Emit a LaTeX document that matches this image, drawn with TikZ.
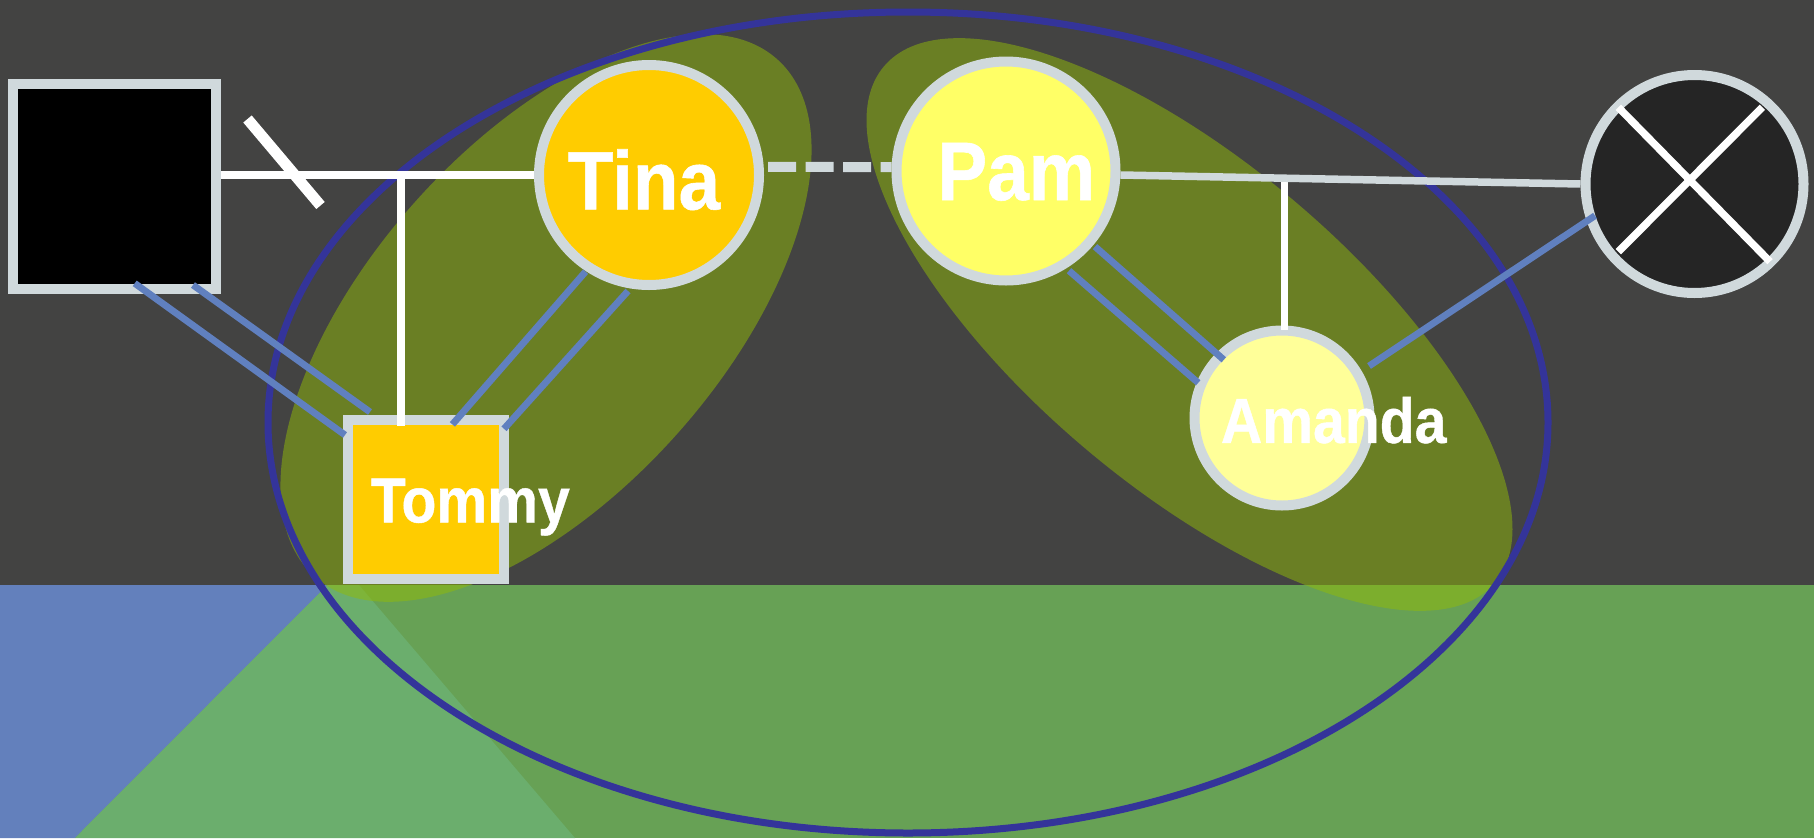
\documentclass[tikz,border=0pt]{standalone}
\usepackage{fontspec}
\setmainfont{Liberation Sans}
\newfontface\lblface[FakeBold=0.7]{Liberation Sans Bold}
\usepackage{graphicx}
\usetikzlibrary{calc}
\definecolor{bgdark}{HTML}{434342}
\definecolor{bggreen}{HTML}{67A155}
\definecolor{bgblue}{HTML}{6380BC}
\definecolor{bglight}{HTML}{6BAE6D}
\definecolor{olivec}{HTML}{91BB07}
\definecolor{ringc}{HTML}{D0D9DC}
\definecolor{tinay}{HTML}{FFCC00}
\definecolor{pamy}{HTML}{FFFF66}
\definecolor{amy}{HTML}{FFFF99}
\definecolor{xfill}{HTML}{252525}
\definecolor{linkblue}{HTML}{6080BF}
\definecolor{ringblue}{HTML}{34349A}
\begin{document}
\begin{tikzpicture}[x=1pt,y=-1pt,
  ring/.style={draw=ringc, line width=10pt, inner sep=0pt},
  circnode/.style={ring, circle},
  sqnode/.style={ring, rectangle},
  whiteline/.style={draw=white, line width=7.5pt},
  grayline/.style={draw=ringc, line width=7.5pt},
  bluelink/.style={draw=linkblue, line width=6.8pt},
  lbl/.style={text=white, inner sep=0pt, anchor=base},
  bigfont/.style={font=\lblface\fontsize{83}{83}\selectfont},
  smallfont/.style={font=\lblface\fontsize{63.5}{63.5}\selectfont},
  blob/.style={fill=olivec, fill opacity=0.5},
]
\useasboundingbox (0,0) rectangle (1814,838);
% background
\fill[bgdark] (0,0) rectangle (1814,585);
\fill[bggreen] (0,585) rectangle (1814,838);
\fill[bgblue] (0,585) -- (327.5,585) -- (75,838) -- (0,838) -- cycle;
\fill[bglight] (327.5,585) -- (359,585) -- (575,838) -- (75,838) -- cycle;
% groups
\fill[blob, rotate around={48.2:(546,318)}] (546,318) ellipse [x radius=347pt, y radius=175pt];
\fill[blob, rotate around={-40.2:(1189.5,324.5)}] (1189.5,324.5) ellipse [x radius=400pt, y radius=162pt];
\draw[draw=ringblue, line width=7pt] (908,422.5) ellipse [x radius=640pt, y radius=410.5pt];
% nodes
\node[sqnode, fill=black, minimum width=203pt, minimum height=205pt] (father) at (114.5,186.5) {};
\node[sqnode, fill=tinay, minimum width=156pt, minimum height=159pt] (tommy) at (426,499.5) {};
\node[circnode, fill=tinay, minimum size=220pt] (tina) at (649,175) {};
\node[circnode, fill=pamy, minimum size=219pt] (pam) at (1006,171) {};
\node[circnode, fill=amy, minimum size=175pt] (amanda) at (1282,418) {};
\node[circnode, fill=xfill, minimum size=218pt] (dead) at (1694.5,184) {};
% connectors
\draw[whiteline] (father.east |- tina.west) -- (tina.west);
\coordinate (s1) at (247.5,119);
\coordinate (s2) at (320.5,205.5);
\draw[draw=white, line width=11pt] (s1) -- (s2);
\coordinate (j1) at (401,175);
\draw[whiteline] (j1) -- ($(tommy.north west)+(58,11)$);
\draw[draw=ringc, line width=10pt, dash pattern=on 28pt off 9.5pt, dash phase=33pt] (tina.4) -- (pam.178);
\coordinate (j2) at ($(pam.-2.5)!0.357!(dead.180)$);
\draw[whiteline] (j2) -- ($(j2 |- amanda.north)+(0,4)$);
\draw[grayline] (pam.-2.5) -- (dead.180);
\draw[bluelink] ($(father.south west)+(126.7,-10.7)$) -- ($(tommy.north west)+(2,20)$);
\draw[bluelink] ($(father.south west)+(185,-9)$) -- ($(tommy.north west)+(27,-3)$);
\draw[bluelink] ($(tina.center)+(-63.4,96.6)$) -- ($(tommy.north west)+(109.4,9.4)$);
\draw[bluelink] ($(tina.center)+(-21,116)$) -- ($(tommy.north west)+(161,13.8)$);
\draw[bluelink] ($(pam.center)+(89,75.6)$) -- ($(amanda.center)+(-58.2,-58.2)$);
\draw[bluelink] ($(pam.center)+(63,99.7)$) -- ($(amanda.center)+(-83.8,-35.2)$);
\draw[bluelink] ($(amanda.center)+(87,-52)$) -- ($(dead.center)+(-99.5,31.7)$);
\draw[whiteline] ($(dead.center)+(-76.2,-76.7)$) -- ($(dead.center)+(75.5,77.7)$);
\draw[whiteline] ($(dead.center)+(67.8,-76.7)$) -- ($(dead.center)+(-76.2,67.7)$);
% labels
\node[lbl, bigfont] (tinaT) at (644,209.4) {\scalebox{0.9}[1]{Tina}};
\node[lbl, bigfont] (pamT) at (1016.3,200) {\scalebox{0.9}[1]{Pam}};
\node[lbl, smallfont] (amandaT) at (1333.7,442.9) {\scalebox{0.9}[1]{Amanda}};
\node[lbl, smallfont] (tommyT) at (470.3,522.4) {\scalebox{0.9}[1]{Tommy}};
\end{tikzpicture}
\end{document}
